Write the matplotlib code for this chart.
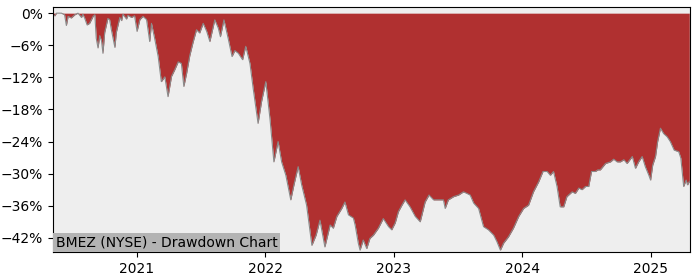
import pandas as pd
import matplotlib
matplotlib.use('Agg')
import matplotlib.pyplot as plt
import matplotlib.dates as mdates
from matplotlib import ticker

# 回撤数据（从图中读取，单位 %）
dates = [
    '2020-05-07', '2020-05-12', '2020-05-17', '2020-05-31', '2020-06-09', '2020-06-14',
    '2020-06-19', '2020-06-28', '2020-07-08', '2020-07-17', '2020-07-27', '2020-07-31',
    '2020-08-05', '2020-08-12', '2020-08-19', '2020-08-29', '2020-09-03', '2020-09-07',
    '2020-09-12', '2020-09-17', '2020-09-22', '2020-09-26', '2020-10-01', '2020-10-10',
    '2020-10-15', '2020-10-20', '2020-10-30', '2020-11-03', '2020-11-13', '2020-11-18',
    '2020-11-22', '2020-12-02', '2020-12-06', '2020-12-16', '2020-12-25', '2021-01-01',
    '2021-01-09', '2021-01-18', '2021-01-28', '2021-02-06', '2021-02-11', '2021-02-20',
    '2021-03-02', '2021-03-11', '2021-03-21', '2021-03-30', '2021-04-09', '2021-04-18',
    '2021-04-28', '2021-05-07', '2021-05-14', '2021-05-22', '2021-05-31', '2021-06-09',
    '2021-06-19', '2021-06-28', '2021-07-08', '2021-07-18', '2021-07-27', '2021-08-10',
    '2021-08-20', '2021-08-26', '2021-09-05', '2021-09-17', '2021-09-28', '2021-10-06',
    '2021-10-16', '2021-10-28', '2021-11-06', '2021-11-18', '2021-11-27', '2021-12-11',
    '2021-12-21', '2022-01-02', '2022-01-14', '2022-01-25', '2022-02-06', '2022-02-16',
    '2022-02-28', '2022-03-14', '2022-03-23', '2022-04-04', '2022-04-14', '2022-04-28',
    '2022-05-13', '2022-05-25', '2022-06-05', '2022-06-19', '2022-07-04', '2022-07-13',
    '2022-07-23', '2022-08-06', '2022-08-15', '2022-08-25', '2022-09-08', '2022-09-13',
    '2022-09-22', '2022-09-27', '2022-10-06', '2022-10-16', '2022-10-25', '2022-11-04',
    '2022-11-18', '2022-12-02', '2022-12-17', '2022-12-26', '2023-01-05', '2023-01-14',
    '2023-01-24', '2023-02-02', '2023-02-16', '2023-03-03', '2023-03-17', '2023-03-31',
    '2023-04-11', '2023-04-24', '2023-05-08', '2023-05-22', '2023-05-27', '2023-06-05',
    '2023-06-20', '2023-07-04', '2023-07-18', '2023-07-28', '2023-08-06', '2023-08-16',
    '2023-08-30', '2023-09-13', '2023-09-27', '2023-10-12', '2023-10-21', '2023-10-31',
    '2023-11-09', '2023-11-23', '2023-12-07', '2023-12-22', '2024-01-05', '2024-01-19',
    '2024-02-02', '2024-02-17', '2024-02-29', '2024-03-12', '2024-03-21', '2024-03-30',
    '2024-04-09', '2024-04-18', '2024-04-28', '2024-05-07', '2024-05-22', '2024-05-31',
    '2024-06-10', '2024-06-19', '2024-06-29', '2024-07-08', '2024-07-16', '2024-07-27',
    '2024-08-03', '2024-08-10', '2024-08-25', '2024-09-08', '2024-09-17', '2024-09-27',
    '2024-10-06', '2024-10-16', '2024-10-25', '2024-11-09', '2024-11-18', '2024-11-27',
    '2024-12-07', '2024-12-16', '2024-12-26', '2024-12-31', '2025-01-06', '2025-01-14',
    '2025-01-20', '2025-01-28', '2025-02-06', '2025-02-16', '2025-02-25', '2025-03-08',
    '2025-03-21', '2025-03-27', '2025-04-04', '2025-04-11', '2025-04-15', '2025-04-20',
]
drawdown = [
    -0.3, -0.5, 0.0, 0.0, -0.3, -2.3,
    -0.6, -0.9, -0.3, 0.0, -0.8, -0.2,
    -0.9, -2.2, -1.9, -0.6, -0.3, -4.7,
    -6.5, -4.2, -5.2, -7.5, -3.6, -1.0,
    -1.2, -3.1, -6.4, -3.6, -0.8, -1.4,
    -0.2, -1.1, -0.4, -0.8, -0.5, -3.4,
    -1.2, -0.6, -1.2, -5.3, -1.9, -4.7,
    -8.1, -12.8, -11.9, -15.6, -11.8, -10.6,
    -9.1, -9.4, -13.7, -11.2, -7.9, -5.5,
    -3.1, -3.7, -1.9, -3.4, -5.3, -1.25,
    -2.8, -4.4, -1.25, -4.7, -8.1, -7.0,
    -7.5, -8.7, -6.2, -9.4, -14.0, -20.6,
    -16.5, -12.8, -19.8, -27.8, -24.0, -27.8,
    -30.3, -34.9, -32.1, -28.7, -32.1, -35.9,
    -43.4, -41.5, -38.7, -43.7, -39.6, -40.2,
    -38.0, -36.5, -35.3, -37.7, -38.3, -39.6,
    -43.0, -44.3, -42.4, -44.0, -42.1, -41.5,
    -40.2, -38.4, -39.9, -40.5, -39.2, -37.1,
    -35.9, -34.9, -36.2, -38.0, -39.0, -35.3,
    -34.0, -34.9, -34.9, -34.9, -36.5, -34.9,
    -34.3, -34.0, -33.4, -33.7, -34.0, -35.5,
    -36.5, -39.9, -40.5, -41.5, -42.7, -44.3,
    -43.0, -41.8, -40.2, -38.0, -36.5, -35.9,
    -33.4, -31.5, -29.6, -29.6, -30.3, -29.6,
    -32.4, -36.2, -36.2, -34.3, -33.4, -33.7,
    -32.7, -33.0, -32.4, -32.4, -29.6, -29.6,
    -29.3, -29.3, -28.1, -27.8, -27.3, -27.8,
    -27.8, -27.4, -28.1, -26.8, -29.0, -27.8,
    -26.8, -28.7, -30.3, -31.2, -28.4, -26.8,
    -24.0, -21.5, -22.5, -23.1, -24.0, -25.6,
    -25.9, -27.1, -32.4, -31.2, -32.1, -31.5,
]
title_text = 'BMEZ (NYSE) - Drawdown Chart'

t = pd.to_datetime(dates)

fig = plt.figure(figsize=(7, 2.8), dpi=100)
ax = fig.add_axes([0.0757, 0.099, 0.91, 0.875])
ax.set_facecolor('#eeeeee')

# 回撤区域（0 到曲线之间填红色）
ax.fill_between(t, 0, drawdown, color='#b03030', linewidth=0)
ax.plot(t, drawdown, color='#8a8a8a', linewidth=0.8)

ax.set_xlim(t[0], pd.Timestamp('2025-04-22'))
ax.set_ylim(-44.7, 1.1)

ax.yaxis.set_major_locator(ticker.MultipleLocator(6))
ax.yaxis.set_major_formatter(ticker.PercentFormatter(decimals=0))
ax.xaxis.set_major_locator(mdates.YearLocator())
ax.xaxis.set_major_formatter(mdates.DateFormatter('%Y'))

ax.text(0.004, 0.012, title_text, transform=ax.transAxes, fontsize=10,
        ha='left', va='bottom',
        bbox=dict(facecolor='#b3b3b3', edgecolor='none', pad=2))

plt.savefig('out.png', dpi=100, facecolor='white')
